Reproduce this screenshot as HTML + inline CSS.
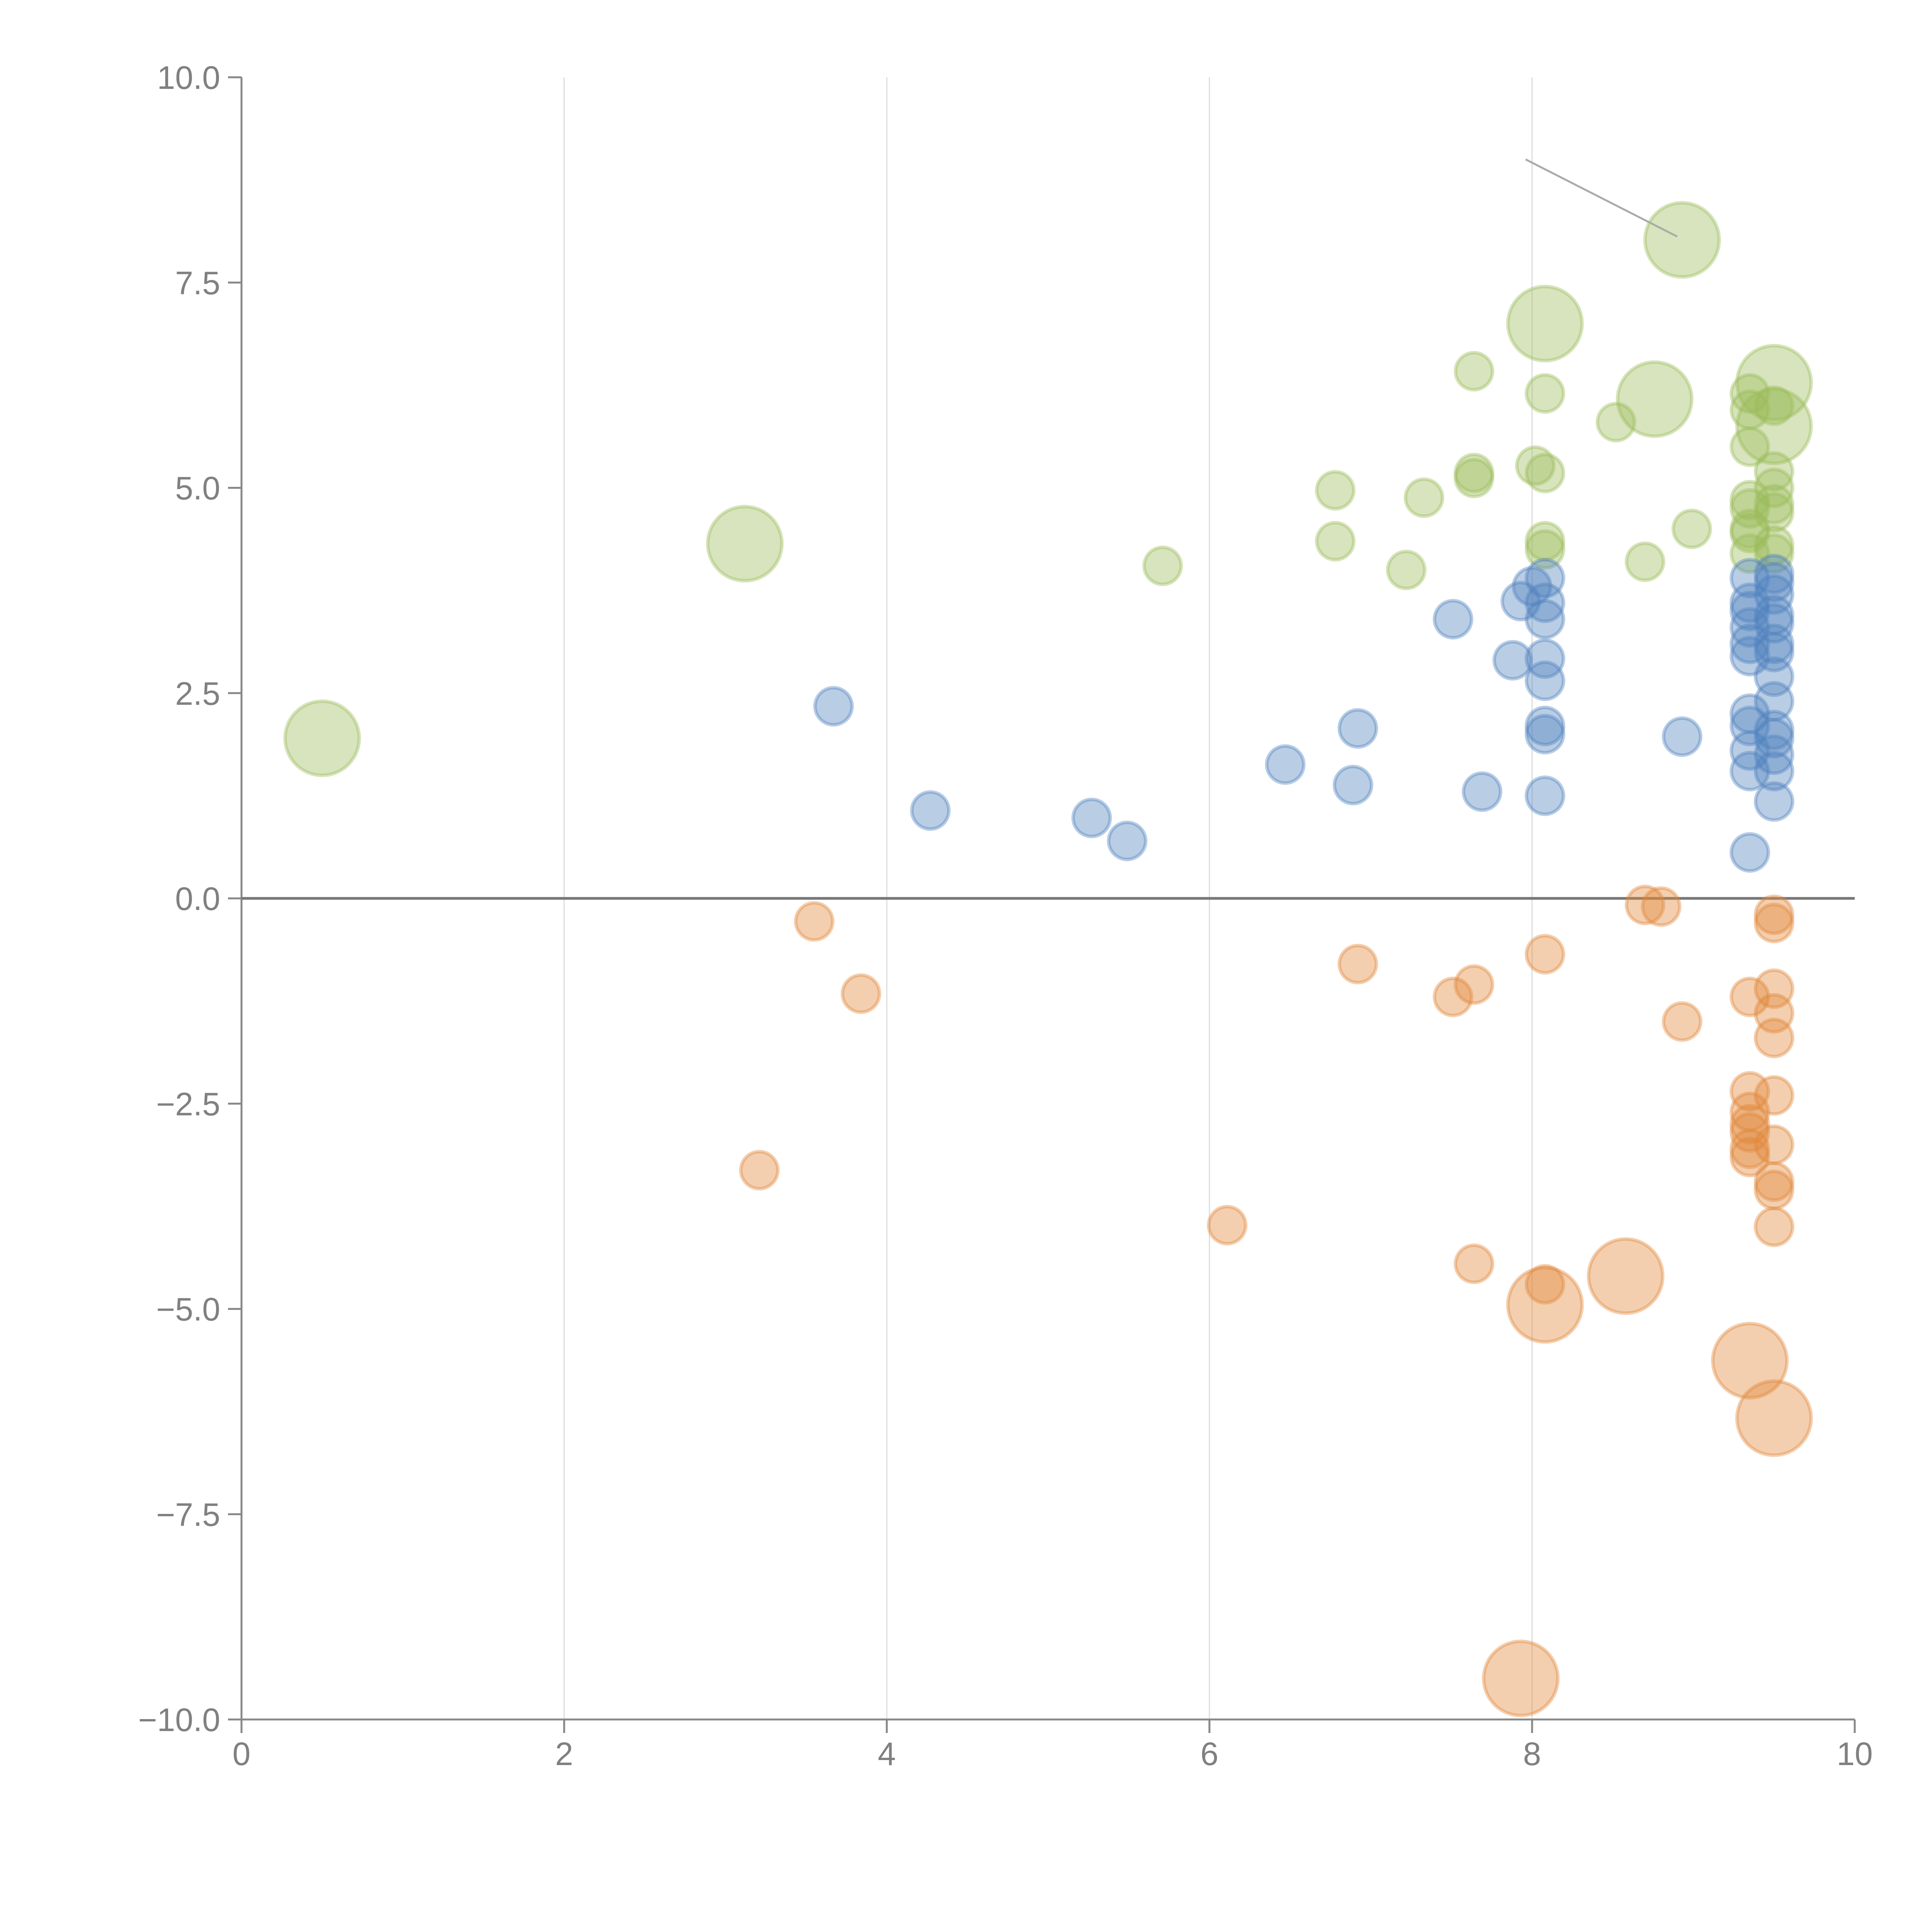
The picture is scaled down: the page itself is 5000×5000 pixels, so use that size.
<!DOCTYPE html>
<html><head><meta charset="utf-8"><style>
html,body{margin:0;padding:0;background:#fff;}
svg{display:block;}
text{font-family:"Liberation Sans",Arial,sans-serif;fill:#808080;font-size:84px;}
</style></head><body>
<svg id="chart" width="5000" height="5000" viewBox="0 0 5000 5000" xmlns="http://www.w3.org/2000/svg">
<g id="grid"></g>
<g id="axes"></g>
<g id="marks"></g>
</svg>
<script>
const xTicks=[0,2,4,6,8,10];
const yTicks=[10,7.5,5,2.5,0,-2.5,-5,-7.5,-10];
const yTickLabels=["10.0","7.5","5.0","2.5","0.0","\u22122.5","\u22125.0","\u22127.5","\u221210.0"];
const greenX=[0.5,3.12,5.71,6.78,6.78,7.22,7.33,7.64,7.64,7.64,8.02,8.08,8.08,8.08,8.08,8.08,8.52,8.76,8.93,8.70,8.99,9.35,9.35,9.35,9.35,9.35,9.35,9.35,9.5,9.5,9.5,9.5,9.5,9.5,9.5,9.5,9.5,9.35];
const greenY=[1.95,4.32,4.05,4.97,4.35,4.0,4.88,6.42,5.18,5.12,5.27,5.18,6.15,7.0,4.35,4.25,5.8,6.08,8.02,4.1,4.5,6.15,5.95,5.5,4.75,4.5,4.45,4.2,6.28,6.0,5.75,5.2,5.0,4.8,4.7,4.3,4.2,4.85];
const greenS=[4,4,1,1,1,1,1,1,1,1,1,1,1,4,1,1,1,4,4,1,1,1,1,1,1,1,1,1,4,1,4,1,1,1,1,1,1,1];
const blueX=[3.67,4.27,5.27,5.49,6.47,6.89,6.92,7.51,7.69,7.88,7.93,8.0,8.08,8.08,8.08,8.08,8.08,8.08,8.08,8.08,8.93,9.35,9.35,9.35,9.35,9.35,9.35,9.35,9.35,9.35,9.35,9.35,9.5,9.5,9.5,9.5,9.5,9.5,9.5,9.5,9.5,9.5,9.5,9.5,9.5,9.5];
const blueY=[2.34,1.07,0.98,0.7,1.63,1.38,2.07,3.4,1.3,2.9,3.62,3.8,3.9,3.6,3.4,2.92,2.65,2.1,2.0,1.25,1.97,0.56,1.55,1.8,2.1,2.25,2.95,3.1,3.3,3.5,3.6,3.9,1.18,1.55,1.75,1.95,2.05,2.4,2.7,3.0,3.1,3.35,3.45,3.7,3.95,3.85];
const orangeX=[3.55,3.84,3.21,6.11,6.92,7.51,7.64,7.64,8.08,8.08,8.08,8.58,8.70,8.80,8.93,7.93,9.35,9.35,9.35,9.35,9.35,9.35,9.35,9.35,9.5,9.5,9.5,9.5,9.5,9.5,9.5,9.5,9.5,9.5,9.5];
const orangeY=[-0.28,-1.16,-3.31,-3.98,-0.8,-1.2,-1.05,-4.45,-0.68,-4.7,-4.95,-4.6,-0.08,-0.1,-1.5,-9.5,-1.2,-2.35,-2.6,-2.75,-2.85,-3.05,-3.15,-5.63,-0.2,-0.3,-1.1,-1.4,-1.7,-2.4,-3.0,-3.45,-3.55,-4.0,-6.33];
const orangeS=[1,1,1,1,1,1,1,1,1,1,4,4,1,1,1,4,1,1,1,1,1,1,1,4,1,1,1,1,1,1,1,1,1,1,4];
const annotX=[7.96,8.9];
const annotY=[9.0,8.06];

const NS="http://www.w3.org/2000/svg";
const X0=625,X1=4800,Y0=200,Y1=4450;
const xs=v=>X0+(v-0)/10*(X1-X0);
const ys=v=>Y0+(10-v)/20*(Y1-Y0);
function mk(tag,attrs,parent){const e=document.createElementNS(NS,tag);for(const k in attrs)e.setAttribute(k,attrs[k]);parent.appendChild(e);return e;}
const grid=document.getElementById('grid'),axes=document.getElementById('axes'),marks=document.getElementById('marks');
xTicks.forEach(t=>{
  if(t>0&&t<10){const g=mk('line',{x1:xs(t),x2:xs(t),y1:Y0,y2:Y1,stroke:'#dcdcdc','stroke-width':3},grid);
  
  }
  const tk=mk('line',{x1:xs(t),x2:xs(t),y1:Y1,y2:Y1+35,stroke:'#888','stroke-width':5},axes);
  
  
  const lb=mk('text',{x:xs(t),y:Y1+118,'text-anchor':'middle'},axes);lb.textContent=String(t);
  
  
});
yTicks.forEach((t,i)=>{
  const tk=mk('line',{x1:X0-35,x2:X0,y1:ys(t),y2:ys(t),stroke:'#888','stroke-width':5},axes);
  
  
  const lb=mk('text',{x:X0-55,y:ys(t)+30,'text-anchor':'end'},axes);lb.textContent=yTickLabels[i];
  
  
});
const ya=mk('line',{x1:X0,x2:X0,y1:Y0,y2:Y1,stroke:'#888','stroke-width':5},axes);


const xa=mk('line',{x1:X0,x2:X1,y1:Y1,y2:Y1,stroke:'#888','stroke-width':5},axes);


const zl=mk('line',{x1:X0,x2:X1,y1:ys(0),y2:ys(0),stroke:'#777','stroke-width':7},axes);


function series(X,Y,S,color,name){
  X.forEach((x,i)=>{
    const s=S?S[i]:1;
    const c=mk('circle',{cx:xs(x),cy:ys(Y[i]),r:48*Math.sqrt(s),fill:color,'fill-opacity':0.4,stroke:color,'stroke-opacity':0.4,'stroke-width':9},marks);
    
    
  });
}
series(greenX,greenY,greenS,'#9bbb59','green-bubble');
series(blueX,blueY,null,'#4f81bd','blue-bubble');
series(orangeX,orangeY,orangeS,'#e0883a','orange-bubble');
const an=mk('line',{x1:xs(annotX[0]),y1:ys(annotY[0]),x2:xs(annotX[1]),y2:ys(annotY[1]),stroke:'#aaa','stroke-width':5},marks);


</script>
</body></html>
